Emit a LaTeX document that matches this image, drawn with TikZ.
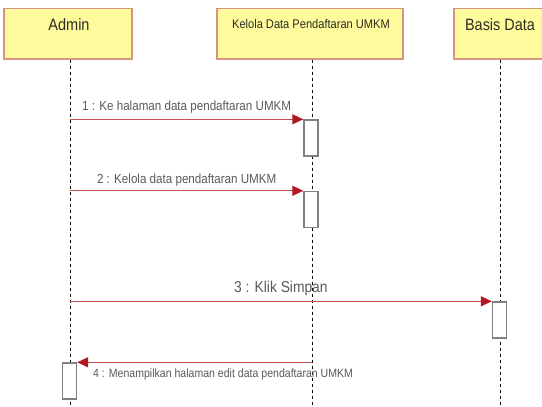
\documentclass[tikz,border=0pt]{standalone}
\usepackage{fontspec}
\setmainfont{Liberation Sans}[FakeStretch=0.88]
\usetikzlibrary{arrows.meta}
\definecolor{hdrfill}{RGB}{255,250,155}
\definecolor{hdredge}{RGB}{214,150,125}
\definecolor{hdrtext}{RGB}{45,45,35}
\definecolor{msgline}{RGB}{196,80,80}
\definecolor{msghead}{RGB}{178,24,34}
\definecolor{msgtext}{RGB}{90,90,90}
\definecolor{actedge}{RGB}{128,128,128}
\tikzset{
  header/.style={draw=hdredge, line width=1.3pt, fill=hdrfill, rectangle,
    minimum height=50.5pt, inner sep=0pt},
  hdrlabel/.style={text=hdrtext, inner sep=0pt},
  lifeline/.style={draw=black, line width=0.7pt, dash pattern=on 3pt off 3pt},
  actbox/.style={draw=actedge, line width=1.4pt, fill=white, rectangle,
    minimum width=14pt, minimum height=36pt, inner sep=0pt},
  msg/.style={draw=msgline, line width=1.2pt,
    -{Triangle[length=11pt,width=10pt,fill=msghead,color=msghead]}},
  msglabel/.style={text=msgtext, inner sep=0pt}
}
\begin{document}
\begin{tikzpicture}[x=1pt,y=-1pt]
\useasboundingbox (0,0) rectangle (542,407);
\clip (0,0) rectangle (542,407);
\fill[white] (0,0) rectangle (542,407);

% participants
\node[header, minimum width=128pt] (admin) at (68,33.75) {};
\node[header, minimum width=186pt] (kelola) at (310,33.75) {};
\node[header, minimum width=92pt] (basis) at (500,33.75) {};
\node[hdrlabel, font=\fontsize{16.5}{18}\selectfont] (admintxt) at (69,25) {Admin};
\node[hdrlabel, font=\fontsize{12.6}{14}\selectfont] (kelolatxt) at (311,24) {Kelola Data Pendaftaran UMKM};
\node[hdrlabel, font=\fontsize{16.4}{18}\selectfont] (basistxt) at (500,25) {Basis Data};

% lifelines
\coordinate (ladmin) at (70,59.5);
\coordinate (lkelola) at (312,59.5);
\coordinate (lbasis) at (500.5,59.5);
\coordinate (bottom) at (0,407);
\draw[lifeline] (ladmin) -- (ladmin |- bottom);
\draw[lifeline] (lkelola) -- (lkelola |- bottom);
\draw[lifeline] (lbasis) -- (lbasis |- bottom);

% activations
\node[actbox] (act1) at (311,138) {};
\node[actbox] (act2) at (311,209.5) {};
\node[actbox] (act3) at (499.5,320) {};
\node[actbox] (act4) at (69.5,381) {};

% messages
\coordinate (s1) at (ladmin |- act1.north west);
\coordinate (s2) at (ladmin |- act2.north west);
\coordinate (s3) at (ladmin |- act3.north west);
\coordinate (s4) at (lkelola |- act4.north east);
\draw[msg] (s1) -- (act1.north west)
  node[msglabel, midway, above=5pt, font=\fontsize{13.2}{15}\selectfont] (m1) {1 : Ke halaman data pendaftaran UMKM};
\draw[msg] (s2) -- (act2.north west)
  node[msglabel, midway, above=4pt, font=\fontsize{13.2}{15}\selectfont] (m2) {2 : Kelola data pendaftaran UMKM};
\draw[msg] (s3) -- (act3.north west)
  node[msglabel, midway, above=4.5pt, font=\fontsize{15.7}{18}\selectfont] (m3) {3 : Klik Simpan};
\draw[msg] (s4) -- (act4.north east);
\node[msglabel, anchor=west, font=\fontsize{12}{14}\selectfont] (m4) at (93,374) {4 : Menampilkan halaman edit data pendaftaran UMKM};
\end{tikzpicture}
\end{document}
